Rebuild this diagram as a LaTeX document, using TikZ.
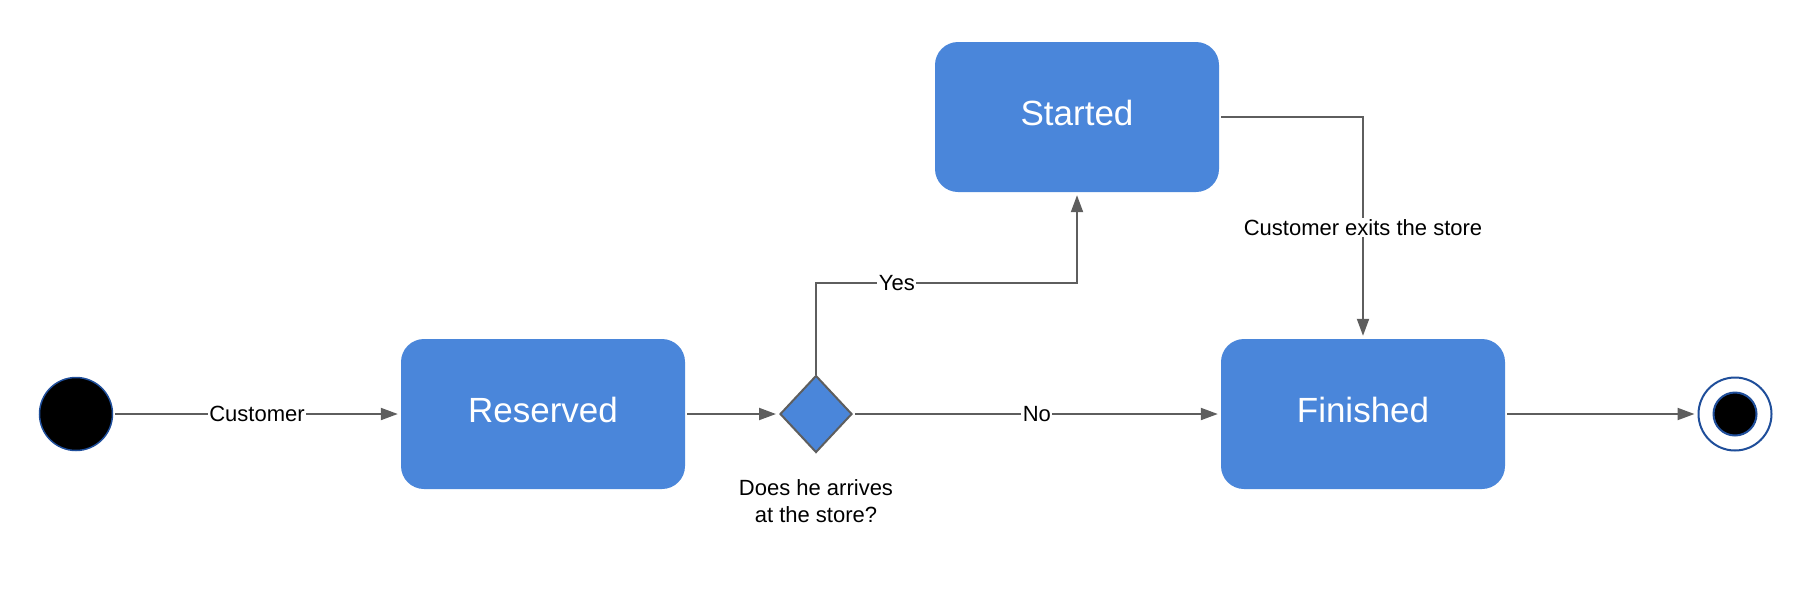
\documentclass[tikz,border=0pt]{standalone}
\usepackage{fontspec}
\setmainfont{Liberation Sans}
\usetikzlibrary{shapes.geometric,arrows.meta}
\definecolor{stateblue}{HTML}{4A86DA}
\definecolor{linegray}{HTML}{5E5E5E}
\definecolor{ringblue}{HTML}{1F4E9A}
\tikzset{
  statebox/.style={rectangle, rounded corners=23pt, fill=stateblue, draw=none,
    minimum width=284pt, minimum height=150pt, text=white, inner sep=0pt,
    font=\fontsize{35}{42}\selectfont, text depth=0.75em},
  conn/.style={draw=linegray, line width=2pt, -{Triangle[length=17pt,width=12pt]}, shorten >=3pt, shorten <=2pt},
  lbl/.style={fill=white, inner sep=1.5pt, font=\fontsize{22}{27}\selectfont, text=black},
  decision/.style={diamond, fill=stateblue, draw=linegray, line width=2pt,
    minimum width=72pt, minimum height=77pt, inner sep=0pt},
}
\begin{document}
\begin{tikzpicture}[x=1pt,y=-1pt]
\useasboundingbox (0,0) rectangle (1812,590);
\node[circle, fill=black, draw=ringblue, line width=1.5pt, minimum size=73pt, inner sep=0pt] (start) at (76,414) {};
\node[statebox] (res) at (543,414) {Reserved};
\node[decision] (dia) at (816,414) {};
\node[font=\fontsize{22}{27}\selectfont, align=center] (q) at (816,501) {Does he arrives\\at the store?};
\node[statebox] (started) at (1077,117) {Started};
\node[statebox] (fin) at (1363,414) {Finished};
\node[circle, fill=white, draw=ringblue, line width=2pt, minimum size=73pt, inner sep=0pt] (endo) at (1735,414) {};
\node[circle, fill=black, draw=ringblue, line width=2pt, minimum size=43pt, inner sep=0pt] (endi) at (1735,414) {};
\coordinate (yb1) at (816,283);
\coordinate (yb2) at (1077,283);

\draw[conn] (start) -- node[lbl] {Customer} (res);
\draw[conn] (res) -- (dia);
\draw[conn] (dia) -- node[lbl, pos=0.5] {No} (fin);
\draw[conn, shorten <=0pt] (dia.north) -- (yb1) -- node[lbl, pos=0.31] {Yes} (yb2) -- (started.south);
\draw[conn] (started.east) -| node[lbl, pos=0.75] {Customer exits the store} (fin.north);
\draw[conn] (fin) -- (endo);
\end{tikzpicture}
\end{document}
